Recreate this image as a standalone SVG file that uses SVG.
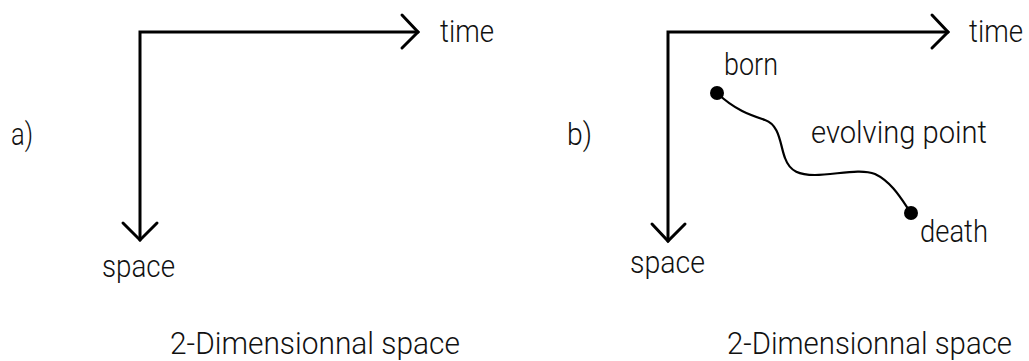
<svg xmlns="http://www.w3.org/2000/svg" width="1029" height="361" viewBox="0 0 1029 361">
<style>
.t{font-family:Roboto,"Liberation Sans",Arial,sans-serif;font-weight:300;font-size:31px;fill:#111}
.ax{fill:none;stroke:#000;stroke-width:3;stroke-linecap:round;stroke-linejoin:miter}
.cv{fill:none;stroke:#000;stroke-width:2.2}
</style>
<rect width="1029" height="361" fill="#fff"/>
<g id="connectors">
<path class="ax" d="M140,240 V32 H418"/>
<path class="ax" d="M402,15 L418,32 L402,48"/>
<path class="ax" d="M123,223 L140,240 L157,223"/>
<path class="ax" d="M668,241 V32 H948"/>
<path class="ax" d="M932,15 L948,32 L932,48"/>
<path class="ax" d="M652,224 L668,241 L685,224"/>
<path class="cv" d="M717,93 C735,110 750,115 765,120 C780,125 780,145 785,158 C790,172 800,175 815,175 C835,175 860,168 875,174 C892,182 902,200 911,213"/>
</g>
<g id="panel-a">
<text class="t" x="11" y="145" textLength="22" lengthAdjust="spacingAndGlyphs">a)</text>
<text class="t" x="440" y="42" textLength="54" lengthAdjust="spacingAndGlyphs">time</text>
<text class="t" x="102" y="277" textLength="73" lengthAdjust="spacingAndGlyphs">space</text>
<text class="t" x="170" y="354" textLength="290" lengthAdjust="spacingAndGlyphs">2-Dimensionnal space</text>
</g>
<g id="panel-b">
<text class="t" x="567" y="145" textLength="25" lengthAdjust="spacingAndGlyphs">b)</text>
<text class="t" x="969" y="42" textLength="54" lengthAdjust="spacingAndGlyphs">time</text>
<text class="t" x="630" y="273" textLength="75" lengthAdjust="spacingAndGlyphs">space</text>
<text class="t" x="727" y="354" textLength="285" lengthAdjust="spacingAndGlyphs">2-Dimensionnal space</text>
</g>
<g id="born">
<circle cx="717" cy="93" r="7" fill="#000"/>
<text class="t" x="724" y="75" textLength="54" lengthAdjust="spacingAndGlyphs">born</text>
</g>
<g id="death">
<circle cx="911" cy="213" r="7" fill="#000"/>
<text class="t" x="920" y="242" textLength="68" lengthAdjust="spacingAndGlyphs">death</text>
</g>
<g id="evolving-point">
<text class="t" x="811" y="143" textLength="176" lengthAdjust="spacingAndGlyphs">evolving point</text>
</g>
</svg>
